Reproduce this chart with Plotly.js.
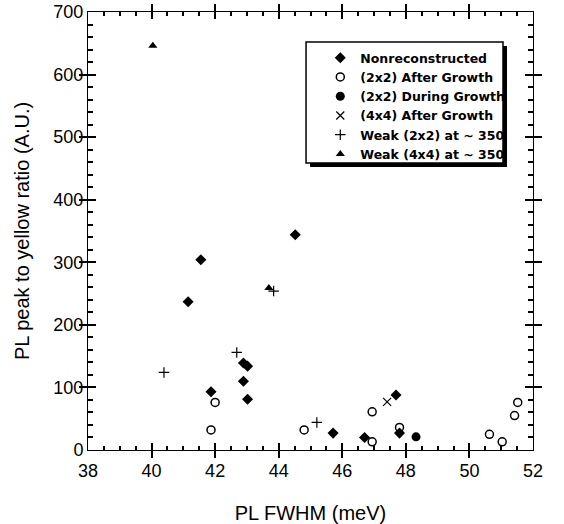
<!DOCTYPE html>
<html>
<head>
<meta charset="utf-8">
<script src="https://cdn.plot.ly/plotly-3.0.1.min.js"></script>
<style>
html,body{margin:0;padding:0;background:#fff;}
#chart{width:564px;height:524px;}
#chart path.xtick, #chart path.ytick, #chart path.x2tick, #chart path.y2tick{stroke:#000 !important;stroke-opacity:1 !important;}
</style>
</head>
<body>
<div id="chart"></div>
<script>
// Data
const seriesNames = ["Nonreconstructed", "(2x2) After Growth", "(2x2) During Growth", "(4x4) After Growth", "Weak (2x2) at ~ 350", "Weak (4x4) at ~ 350"];

const nonrecX = [41.15, 41.55, 44.52, 41.87, 42.89, 43.02, 42.89, 43.02, 45.71, 46.70, 47.69, 47.80];
const nonrecY = [237, 304, 344, 93, 139, 134, 110, 81, 27, 20, 88, 27];

const after2x2X = [42.00, 41.87, 44.80, 46.94, 46.94, 47.80, 50.63, 51.03, 51.42, 51.52];
const after2x2Y = [76, 32, 32, 13, 61, 36, 25, 13, 55, 76];

const during2x2X = [48.32];
const during2x2Y = [21];

const after4x4X = [47.41];
const after4x4Y = [77];

const weak2x2X = [40.39, 42.68, 43.84, 45.20];
const weak2x2Y = [124, 156, 254, 44];

const weak4x4X = [40.04, 43.69];
const weak4x4Y = [646, 259];

const xRange = [38, 52];
const yRange = [0, 700];

const traces = [
  {x: nonrecX, y: nonrecY, name: seriesNames[0], mode: "markers", type: "scatter",
   marker: {symbol: "diamond", size: 8.5, color: "#000"}},
  {x: after2x2X, y: after2x2Y, name: seriesNames[1], mode: "markers", type: "scatter",
   marker: {symbol: "circle-open", size: 8, color: "#000", line: {width: 1.5, color: "#000"}}},
  {x: during2x2X, y: during2x2Y, name: seriesNames[2], mode: "markers", type: "scatter",
   marker: {symbol: "circle", size: 9, color: "#000"}},
  {x: after4x4X, y: after4x4Y, name: seriesNames[3], mode: "markers", type: "scatter",
   marker: {symbol: "x-thin-open", size: 8, color: "#000", line: {width: 1.2, color: "#000"}}},
  {x: weak2x2X, y: weak2x2Y, name: seriesNames[4], mode: "markers", type: "scatter",
   marker: {symbol: "cross-thin-open", size: 7.5, color: "#000", line: {width: 1.2, color: "#000"}}},
  {x: weak4x4X, y: weak4x4Y, name: seriesNames[5], mode: "markers", type: "scatter",
   marker: {symbol: "triangle-up", size: 8, color: "#000"}},
  // empty helper traces so the minor-tick overlay axes are drawn
  {x: [], y: [], xaxis: "x2", yaxis: "y", type: "scatter", mode: "markers", showlegend: false, hoverinfo: "skip"},
  {x: [], y: [], xaxis: "x", yaxis: "y2", type: "scatter", mode: "markers", showlegend: false, hoverinfo: "skip"}
];

const tickFont = {family: "Liberation Sans, Arial, sans-serif", size: 18, color: "#000"};
const titleFont = {family: "Liberation Sans, Arial, sans-serif", size: 20, color: "#000"};

const axisCommon = {
  showgrid: false, zeroline: false, showline: true, linecolor: "#000", linewidth: 1,
  mirror: "allticks", ticks: "inside", tickcolor: "#000", tickwidth: 2, tickfont: tickFont,
  layer: "above traces"
};

const minorCommon = {
  showgrid: false, zeroline: false, showline: false, showticklabels: false,
  mirror: "allticks", ticks: "inside", tickcolor: "#000", tickwidth: 2,
  layer: "above traces"
};

const fontLeg = {family: "DejaVu Sans, sans-serif", size: 12.5, color: "#000", weight: "bold"};

// legend box (paper coords) and its shadow
const boxX0 = 0.490, boxX1 = 0.9326, boxY0 = 0.655, boxY1 = 0.9315;
const shX = 0.009, shY = 0.009;

const layout = {
  width: 564, height: 524,
  margin: {l: 88, r: 31, t: 12, b: 74},
  showlegend: true,
  xaxis: Object.assign({}, axisCommon, {
    range: xRange, tick0: 38, dtick: 2, ticklen: 7, ticklabelstandoff: 4,
    title: {text: "PL FWHM (meV)", standoff: 26, font: titleFont}
  }),
  yaxis: Object.assign({}, axisCommon, {
    range: yRange, tick0: 0, dtick: 100, ticklen: 8,
    title: {text: "PL peak to yellow ratio (A.U.)", standoff: 18, font: titleFont}
  }),
  xaxis2: Object.assign({}, minorCommon, {
    overlaying: "x", anchor: "y", side: "bottom", range: xRange, tick0: 38, dtick: 0.5, ticklen: 4
  }),
  yaxis2: Object.assign({}, minorCommon, {
    overlaying: "y", anchor: "x", side: "left", range: yRange, tick0: 0, dtick: 20, ticklen: 5
  }),
  legend: {
    x: 0.522, y: 0.929, xanchor: "left", yanchor: "top",
    bgcolor: "rgba(0,0,0,0)", borderwidth: 0,
    font: fontLeg, itemwidth: 30, tracegroupgap: 0
  },
  shapes: [
    {type: "rect", xref: "paper", yref: "paper", layer: "above",
     x0: boxX0 + shX, x1: boxX1 + shX, y0: boxY0 - shY, y1: boxY1 - shY,
     fillcolor: "#000", line: {width: 0}},
    {type: "rect", xref: "paper", yref: "paper", layer: "above",
     x0: boxX0, x1: boxX1, y0: boxY0, y1: boxY1,
     fillcolor: "#fff", line: {width: 1.5, color: "#000"}}
  ]
};

Plotly.newPlot("chart", traces, layout, {displayModeBar: false, staticPlot: true});
</script>
</body>
</html>
